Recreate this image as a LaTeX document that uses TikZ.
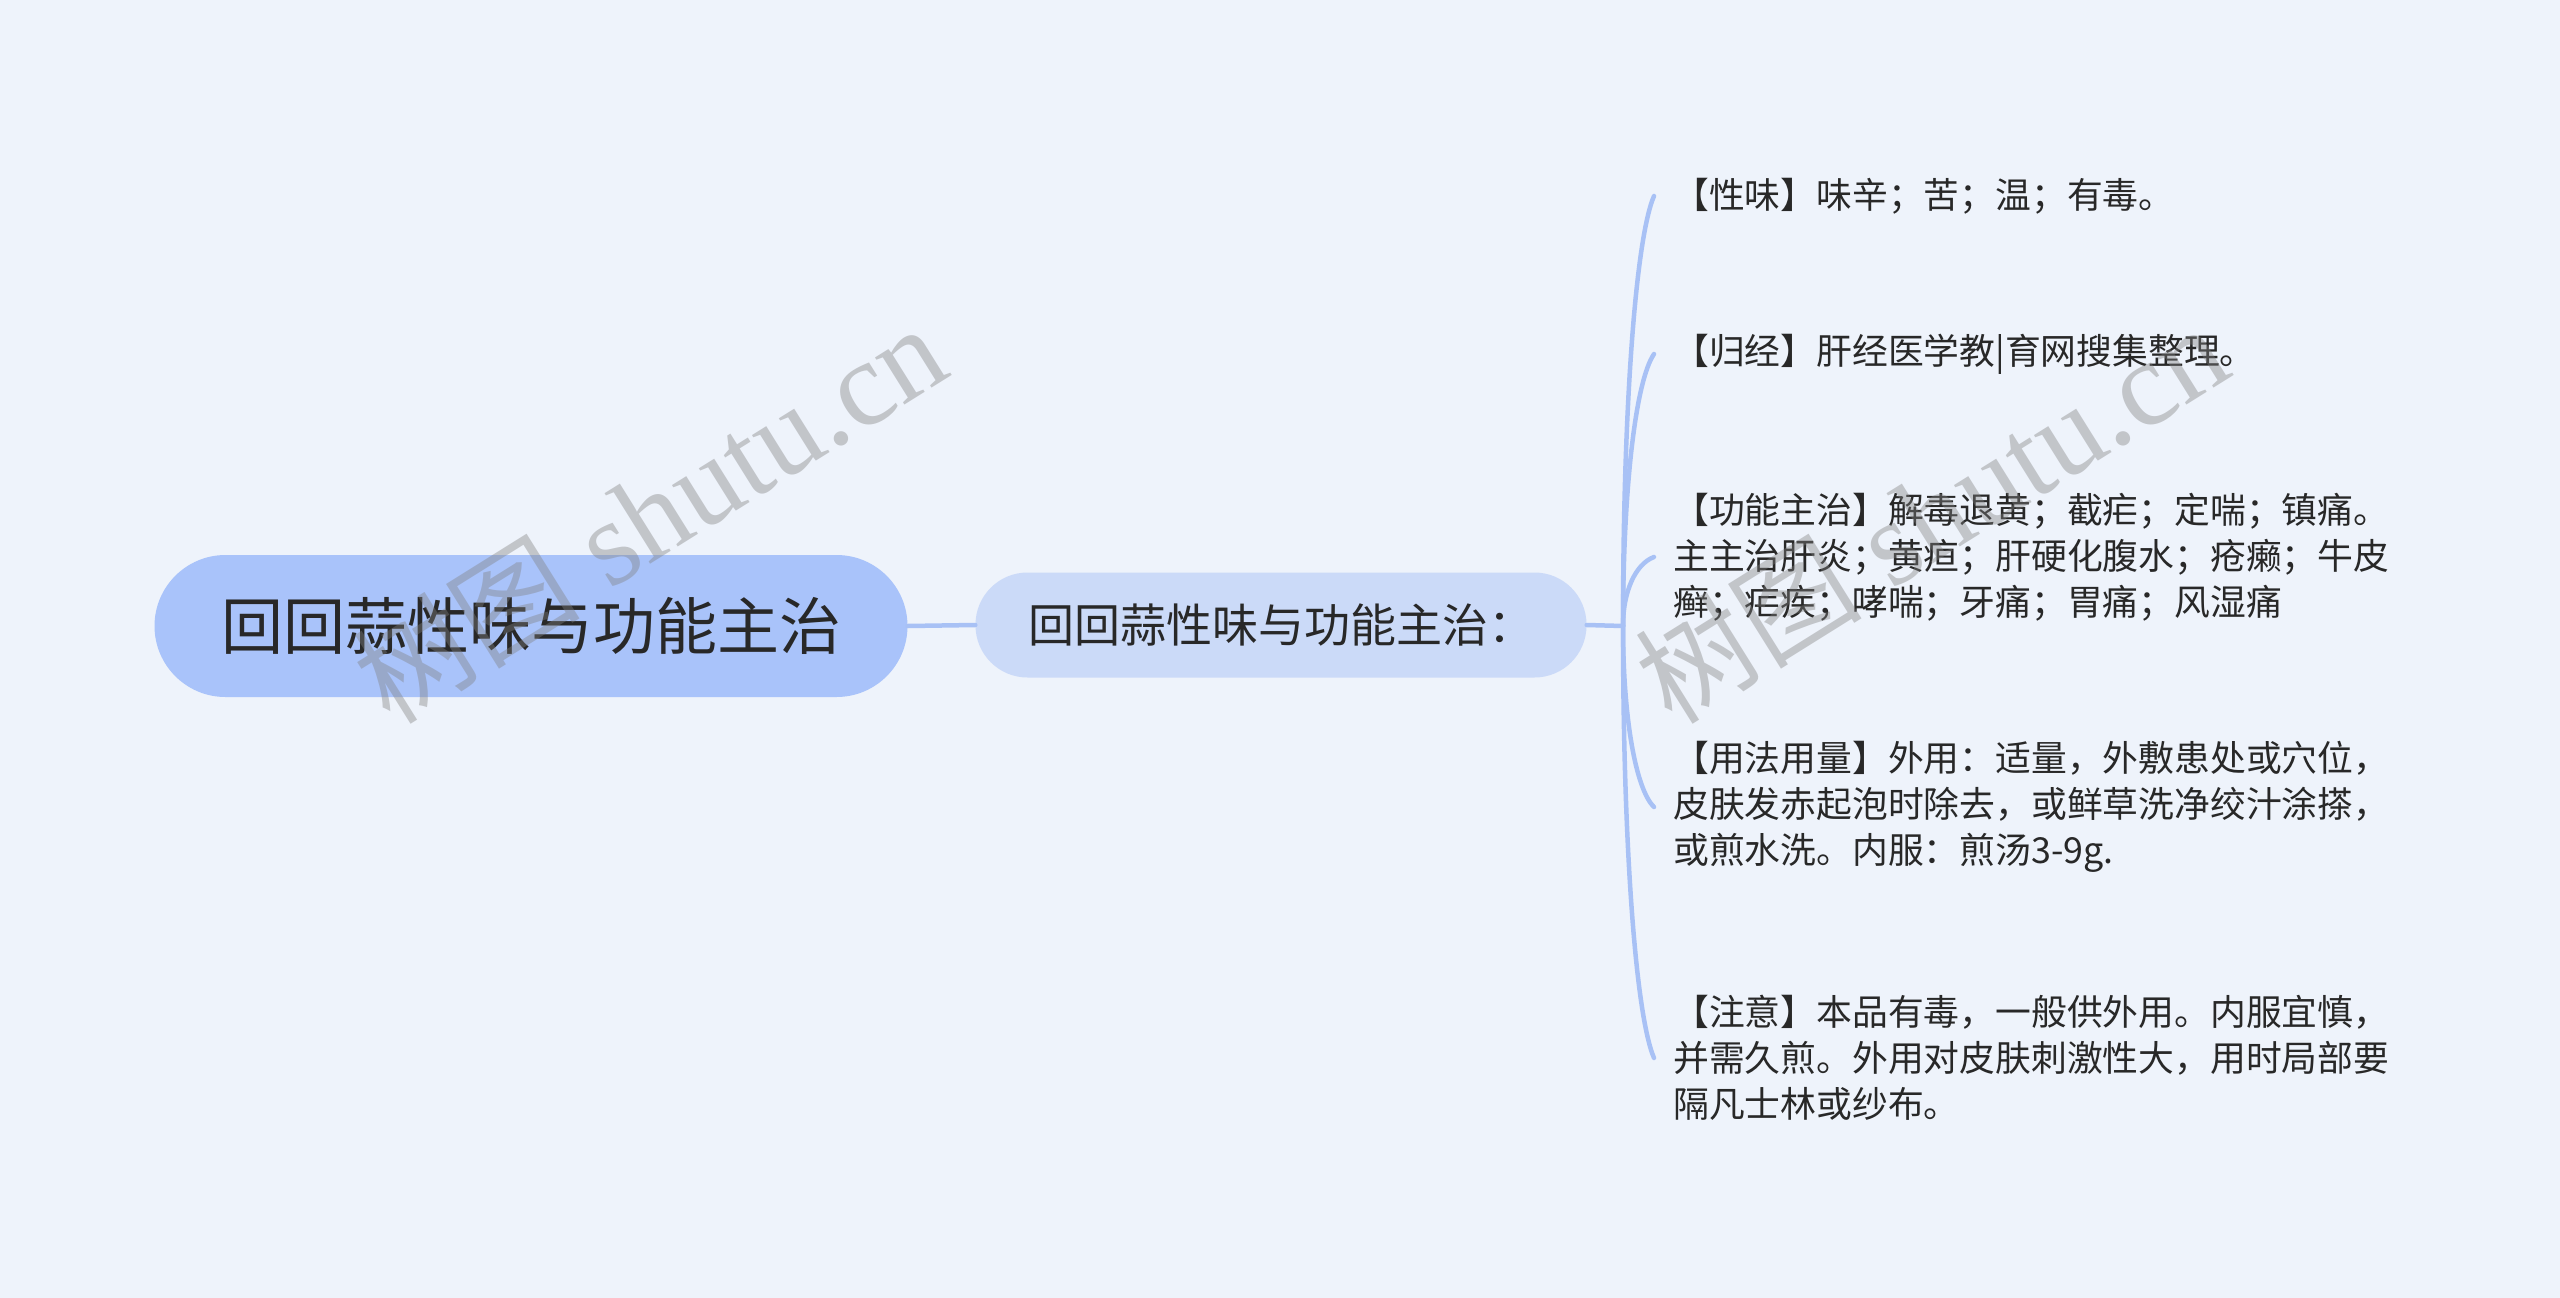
\documentclass[tikz,border=0pt]{standalone}
\usepackage{fontspec}
\usetikzlibrary{calc}
\setmainfont{Noto Sans CJK SC}
\newfontfamily\wmser{Liberation Serif}
\newfontfamily\wmcjk{Noto Sans CJK SC}
\definecolor{bgc}{RGB}{238,243,251}
\definecolor{linec}{RGB}{168,193,245}
\definecolor{mainfill}{RGB}{169,195,250}
\definecolor{subfill}{RGB}{203,218,248}
\definecolor{txt}{RGB}{40,40,40}
\tikzset{
  mainbox/.style={fill=mainfill, rounded corners=71pt, minimum width=753pt, minimum height=142pt, inner sep=0pt, text=txt, font=\fontsize{62}{74}\selectfont},
  subbox/.style={fill=subfill, rounded corners=52pt, minimum width=611pt, minimum height=105pt, inner sep=0pt, text=txt, font=\fontsize{46}{56}\selectfont},
  leafbox/.style={anchor=west, inner xsep=19pt, inner ysep=0pt, align=left, text=txt, font=\fontsize{35.8}{46}\selectfont},
  conn/.style={draw=linec, line width=4.5pt, line cap=round},
  wmark/.style={text=black!50, opacity=0.4, rotate=32, inner sep=0pt}
}
\begin{document}
\begin{tikzpicture}[x=1pt,y=-1pt]
\fill[bgc] (0,0) rectangle (2560,1298);
\useasboundingbox (0,0) rectangle (2560,1298);

\node[mainbox] (main) at (531,626) {回回蒜性味与功能主治};
\node[subbox] (sub) at (1281,625) {回回蒜性味与功能主治：};

\node[leafbox] (l1) at (1654,196) {【性味】味辛；苦；温；有毒。};
\node[leafbox] (l2) at (1654,354) {【归经】肝经医学教|育网搜集整理。};
\node[leafbox] (l3) at (1654,557) {【功能主治】解毒退黄；截疟；定喘；镇痛。\\主主治肝炎；黄疸；肝硬化腹水；疮癞；牛皮\\癣；疟疾；哮喘；牙痛；胃痛；风湿痛};
\node[leafbox] (l4) at (1654,807) {【用法用量】外用：适量，外敷患处或穴位，\\皮肤发赤起泡时除去，或鲜草洗净绞汁涂搽，\\或煎水洗。内服：煎汤3-9g.};
\node[leafbox] (l5) at (1654,1058) {【注意】本品有毒，一般供外用。内服宜慎，\\并需久煎。外用对皮肤刺激性大，用时局部要\\隔凡士林或纱布。};

\coordinate (j) at (1623,626);
\draw[conn] (main.east) -- (sub.west);
\draw[conn] (sub.east) -- (j);
\foreach \l in {l1,l2,l3,l4,l5}{
  \path ($(j)!0.5!(\l.west)$) coordinate (m)
        ($(j)!0.4!(\l.west)$) coordinate (ax)
        ($(j)!0.9!(\l.west)$) coordinate (ay);
  \draw[conn] (j) .. controls (j |- m) and (ax |- ay) .. (\l.west);
}

\node[wmark] (w1) at (649,514) {{\wmcjk\fontsize{114}{120}\selectfont 树图}{\wmser\fontsize{121}{130}\selectfont\ shutu.cn}};
\node[wmark] (w2) at (1931,514) {{\wmcjk\fontsize{114}{120}\selectfont 树图}{\wmser\fontsize{121}{130}\selectfont\ shutu.cn}};
\end{tikzpicture}
\end{document}
